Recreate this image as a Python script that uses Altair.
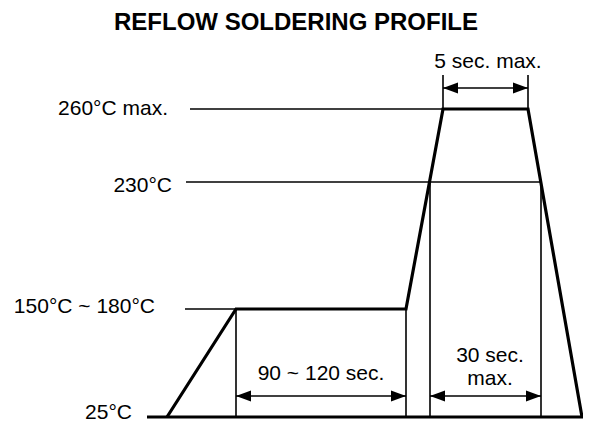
import altair as alt
import pandas as pd

# ---- data (schematic time units on x, temperature in °C on y) ----
profile_time = [159, 228, 398, 435, 520, 574]
profile_temp = [25, 165, 165, 260, 260, 25]

# thin horizontal guide lines at the temperature levels
guide_temp = [260, 230, 165]
guide_start = [182, 178, 177]
guide_end = [435, 533, 228]

# thick base line at 25 °C
base_temp = [25]
base_start = [139]
base_end = [577]

# level labels
level_label = ["260°C max.", "230°C", "150°C ~ 180°C", "25°C"]
level_label_time = [160, 164, 147, 124]
level_label_temp = [257.5, 224.9, 159.8, 21.8]

# thin vertical lines
vert_time = [228, 398, 422, 533, 435, 520]
vert_top = [165, 165, 230, 230, 274.0, 274.0]
vert_bottom = [25, 25, 25, 25, 260, 260]

# dimension arrows
arrow_start = [435, 228, 422]
arrow_end = [520, 398, 533]
arrow_temp = [268.6, 52.2, 52.2]

# dimension labels
dim_label = ["5 sec. max.", "90 ~ 120 sec.", "30 sec.", "max."]
dim_time = [480, 313, 482, 482]
dim_temp = [276.9, 73.0, 96.3, 66.5]

title_text = ["REFLOW SOLDERING PROFILE"]
title_time = [288]
title_temp = [292.5]

FONT = "Liberation Sans"

xs = alt.Scale(domain=[0, 575], range=[0, 575], zero=False, nice=False)
ys = alt.Scale(domain=[25, 165, 230, 260], range=[409, 301, 174, 101], zero=False, nice=False)

profile_df = pd.DataFrame({"t": profile_time, "T": profile_temp, "o": list(range(len(profile_time)))})
guide_df = pd.DataFrame({"t": guide_start, "t2": guide_end, "T": guide_temp})
base_df = pd.DataFrame({"t": base_start, "t2": base_end, "T": base_temp})
lvl_df = pd.DataFrame({"t": level_label_time, "T": level_label_temp, "label": level_label})
vert_df = pd.DataFrame({"t": vert_time, "T": vert_top, "T2": vert_bottom})
arrow_df = pd.DataFrame({"t": arrow_start, "t2": arrow_end, "T": arrow_temp})
dim_df = pd.DataFrame({"t": dim_time, "T": dim_temp, "label": dim_label})
title_df = pd.DataFrame({"t": title_time, "T": title_temp, "label": title_text})
head_l_df = pd.DataFrame({"t": arrow_start, "T": arrow_temp})
head_r_df = pd.DataFrame({"t": arrow_end, "T": arrow_temp})

X = lambda f="t": alt.X(f"{f}:Q", scale=xs, axis=None)
Y = lambda f="T": alt.Y(f"{f}:Q", scale=ys, axis=None)

guides = alt.Chart(guide_df).mark_rule(color="black", strokeWidth=1.6).encode(
    x=X(), x2="t2:Q", y=Y())
base = alt.Chart(base_df).mark_rule(color="black", strokeWidth=3.2).encode(
    x=X(), x2="t2:Q", y=Y())
verts = alt.Chart(vert_df).mark_rule(color="black", strokeWidth=1.6).encode(
    x=X(), y=Y(), y2="T2:Q")
arrows = alt.Chart(arrow_df).mark_rule(color="black", strokeWidth=1.6).encode(
    x=X(), x2="t2:Q", y=Y())
head_l = alt.Chart(head_l_df).mark_point(
    shape="M0,0L2,-0.73L2,0.73Z", size=225, filled=True, color="black", opacity=1, strokeWidth=0
).encode(x=X(), y=Y())
head_r = alt.Chart(head_r_df).mark_point(
    shape="M0,0L-2,-0.73L-2,0.73Z", size=225, filled=True, color="black", opacity=1, strokeWidth=0
).encode(x=X(), y=Y())
profile = alt.Chart(profile_df).mark_line(
    color="black", strokeWidth=3.2, strokeJoin="miter", strokeCap="butt"
).encode(x=X(), y=Y(), order="o:Q")
lvl_text = alt.Chart(lvl_df).mark_text(
    align="right", baseline="alphabetic", font=FONT, fontSize=21, color="black"
).encode(x=X(), y=Y(), text="label:N")
dim_text = alt.Chart(dim_df).mark_text(
    align="center", baseline="alphabetic", font=FONT, fontSize=21, color="black"
).encode(x=X(), y=Y(), text="label:N")
title = alt.Chart(title_df).mark_text(
    align="center", baseline="alphabetic", font=FONT, fontSize=24, fontWeight="bold", color="black"
).encode(x=X(), y=Y(), text="label:N")

chart = alt.layer(
    guides, verts, arrows, head_l, head_r, base, profile, lvl_text, dim_text, title
).properties(
    width=575, height=416, padding=0, autosize="none", background="white"
).configure_view(stroke=None)

chart.save("out.html", embed_options={"renderer": "svg", "actions": False})
